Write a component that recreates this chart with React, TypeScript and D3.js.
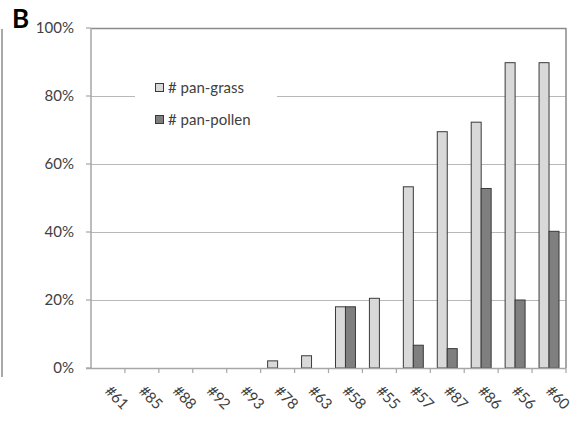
import React from "react";
import * as d3 from "d3";

const categories = ["#61", "#85", "#88", "#92", "#93", "#78", "#63", "#58", "#55", "#57", "#87", "#86", "#56", "#60"];
const grassValues = [0, 0, 0, 0, 0, 2.1, 3.6, 18, 20.5, 53.3, 69.5, 72.3, 89.8, 89.8];
const pollenValues = [0, 0, 0, 0, 0, 0, 0, 18, 0, 6.7, 5.7, 52.8, 20, 40.2];
const yTicks = [0, 20, 40, 60, 80, 100];
const seriesNames = ["# pan-grass", "# pan-pollen"];
const seriesColors = ["#d9d9d9", "#7f7f7f"];

const W = 579, H = 424;
const left = 91, right = 566, top = 28, bottom = 368;
const FONT = "Lato, 'Open Sans', sans-serif";

export default function App() {
  const x = d3.scaleBand<string>().domain(categories).range([left, right]).paddingInner(0).paddingOuter(0);
  const inner = d3.scaleBand<string>().domain(["g", "p"]).range([0, x.bandwidth()]).paddingOuter(0.7).paddingInner(0);
  const y = d3.scaleLinear().domain([0, 100]).range([bottom, top]);
  const textColor = "#404040";
  const series = [grassValues, pollenValues];
  const keys = ["g", "p"];

  return (
    <svg width={W} height={H} style={{ position: "absolute", left: 0, top: 0, background: "#fff" }} fontFamily={FONT}>
      <rect x={0} y={0} width={W} height={H} fill="#fff" />
      {/* left panel edge line */}
      <line x1={2} x2={2} y1={29} y2={377} stroke="#8c8c8c" strokeWidth={1.5} />
      <text x={12} y={28} fontSize={26} fontWeight={700} fill="#000">B</text>

      {/* gridlines */}
      {yTicks.filter(t => t > 0).map(t => (
        <line key={t} x1={left} x2={right} y1={Math.round(y(t)) + 0.5} y2={Math.round(y(t)) + 0.5} stroke={t === 100 ? "#8a8a8a" : "#b8b8b8"} strokeWidth={t === 100 ? 1.5 : 1.2} />
      ))}
      {/* right border */}
      <line x1={right} x2={right} y1={top} y2={bottom} stroke="#8a8a8a" strokeWidth={1.5} />

      {/* bars */}
      {series.map((vals, si) => vals.map((v, i) => v > 0 ? (
        <rect key={si + "-" + i}
          x={(x(categories[i]) as number) + (inner(keys[si]) as number)}
          y={y(v)}
          width={inner.bandwidth()}
          height={y(0) - y(v)}
          fill={seriesColors[si]} stroke="#3a3a3a" strokeWidth={1} />
      ) : null))}

      {/* axes */}
      <line x1={left} x2={left} y1={top} y2={bottom} stroke="#a6a6a6" strokeWidth={1.5} />
      <line x1={left - 5} x2={right} y1={bottom + 0.5} y2={bottom + 0.5} stroke="#a6a6a6" strokeWidth={1.5} />
      {yTicks.map(t => (
        <g key={t}>
          <line x1={left - 5} x2={left} y1={y(t)} y2={y(t)} stroke="#a6a6a6" strokeWidth={1.2} />
          <text x={74} y={y(t)} dy="0.36em" textAnchor="end" fontSize={15} fill={textColor}>{t}%</text>
        </g>
      ))}
      {categories.map((c, i) => (
        <line key={"t" + c} x1={(x(c) as number) + x.bandwidth()} x2={(x(c) as number) + x.bandwidth()} y1={bottom} y2={bottom + 5} stroke="#a6a6a6" strokeWidth={1.2} />
      ))}
      {categories.map(c => {
        const cx = (x(c) as number) + x.bandwidth() / 2 - 4;
        const cy = 392;
        return (
          <text key={"l" + c} x={cx} y={cy} transform={`rotate(45 ${cx} ${cy})`} fontSize={15} fill={textColor}>{c}</text>
        );
      })}

      {/* legend */}
      <rect x={135} y={70} width={142} height={55} fill="#fff" />
      {seriesNames.map((n, i) => (
        <g key={n}>
          <rect x={155.5} y={83.5 + i * 32} width={8} height={8} fill={seriesColors[i]} stroke="#3a3a3a" strokeWidth={1} />
          <text x={168} y={93 + i * 32} fontSize={15} fill={textColor}>{n}</text>
        </g>
      ))}
    </svg>
  );
}
